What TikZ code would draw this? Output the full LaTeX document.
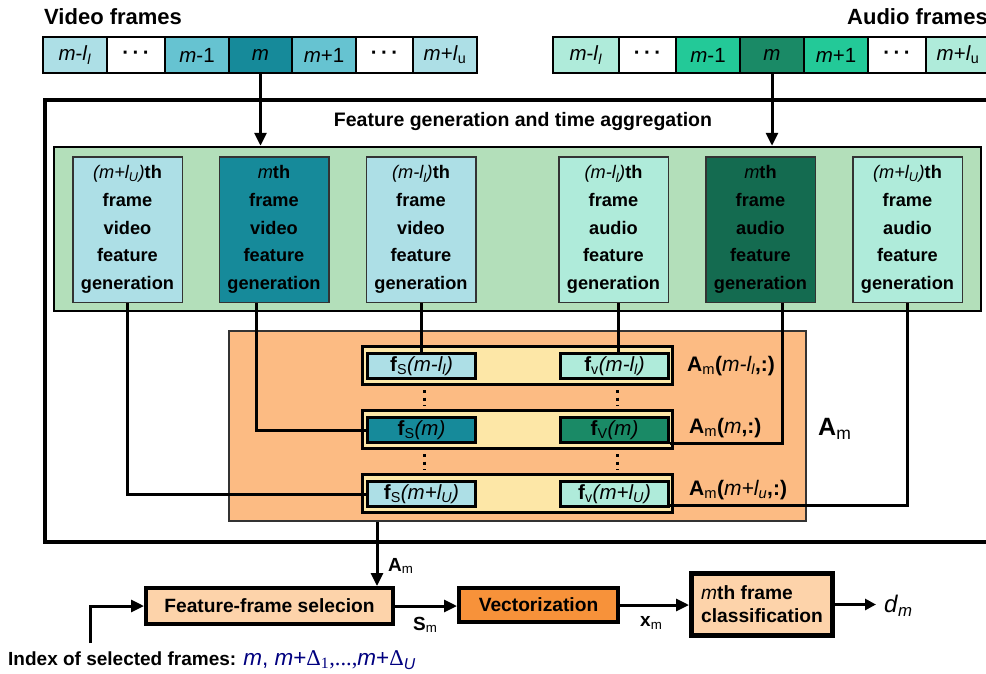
\documentclass[tikz,border=0pt]{standalone}
\usepackage{fontspec}
\setmainfont{Liberation Sans}
\newfontfamily\deltafont{Liberation Serif}
\usetikzlibrary{positioning, arrows.meta, calc}
\definecolor{vlight}{HTML}{ADDFE6}
\definecolor{vmid}{HTML}{66C3D1}
\definecolor{vdark}{HTML}{168A9A}
\definecolor{alight}{HTML}{AFEBDA}
\definecolor{amid}{HTML}{23C998}
\definecolor{adark}{HTML}{1A8A66}
\definecolor{gdark}{HTML}{146B50}
\definecolor{greenbg}{HTML}{B3DFBA}
\definecolor{orangebg}{HTML}{FCBB83}
\definecolor{rowyellow}{HTML}{FDE7A7}
\definecolor{peach}{HTML}{FDD3AA}
\definecolor{vecorange}{HTML}{F7923A}
\definecolor{idxblue}{HTML}{00007F}
\definecolor{edge}{HTML}{333333}
\newcommand{\mi}[1]{\textmd{\textit{#1}}}
\newcommand{\dotsrow}{\textbf{·\,·\,·}}

\begin{document}
\begin{tikzpicture}[x=1pt,y=-1pt,
  cell/.style={draw=black, line width=1.8pt, minimum height=36pt, inner sep=0pt, outer sep=0pt, font=\fontsize{20.5}{22}\selectfont},
  genbox/.style={draw=edge, line width=1.5pt, minimum width=109.5pt, minimum height=145.5pt, inner sep=0pt, align=center, font=\bfseries\fontsize{18.2}{27.6}\selectfont},
  featbox/.style={draw=black, line width=3pt, minimum width=108pt, minimum height=25pt, inner sep=0pt, font=\fontsize{20.5}{22}\selectfont},
  rowbox/.style={draw=black, line width=3pt, fill=rowyellow, minimum width=310pt, minimum height=38pt, inner sep=0pt},
  stagebox/.style={draw=black, line width=4pt, inner sep=0pt, font=\bfseries\fontsize{19.2}{23}\selectfont},
  lab/.style={inner sep=0pt, font=\fontsize{21}{23}\selectfont},
  link/.style={line width=3pt},
  arr/.style={line width=3pt, -{Triangle[length=13pt,width=12pt]}},
  dotsline/.style={line width=3pt, dash pattern=on 3pt off 4.5pt, shorten <=4pt, shorten >=3pt}]
\clip (0,0) rectangle (986,673);

% frame strips
\node[anchor=base west, font=\bfseries\fontsize{22}{24}\selectfont, inner sep=0pt] (vtitle) at (44,24) {Video frames};
\node[anchor=base west, font=\bfseries\fontsize{22}{24}\selectfont, inner sep=0pt] (atitle) at (847,24) {Audio frames};
\foreach \cx/\cw/\cf/\ct [count=\i] in {75/64/vlight/{\textit{m}-\textit{l}\textsubscript{\textit{l}}}, 136/58/white/\dotsrow, 197/64/vmid/{\textit{m}-1}, 260.5/63/vdark/\textit{m}, 324/64/vmid/{\textit{m}+1}, 384.5/57/white/\dotsrow, 445/64/vlight/{\textit{m}+\textit{l}\textsubscript{u}}}
  \node[cell, fill=\cf, minimum width=\cw pt] (v\i) at (\cx,55) {\ct};
\foreach \cx/\cw/\cf/\ct [count=\i] in {586/66/alight/{\textit{m}-\textit{l}\textsubscript{\textit{l}}}, 647.5/57/white/\dotsrow, 708/64/amid/{\textit{m}-1}, 772/64/adark/\textit{m}, 836/64/amid/{\textit{m}+1}, 897/58/white/\dotsrow, 958/64/alight/{\textit{m}+\textit{l}\textsubscript{u}}}
  \node[cell, fill=\cf, minimum width=\cw pt] (a\i) at (\cx,55) {\ct};

% feature generation and time aggregation
\draw[line width=4pt] (45,100) rectangle (1010,542);
\node[font=\bfseries\fontsize{19.5}{21}\selectfont] (fgtitle) at (523,121) {Feature generation and time aggregation};
\node[draw=black, line width=2.5pt, fill=greenbg, minimum width=927pt, minimum height=164pt] (green) at (517.5,229) {};
\foreach \gx/\gf/\gt/\gk [count=\i] in {127.5/vlight/{(m+l\textsubscript{U})}/video, 274/vdark/m/video, 421/vlight/{(m-l\textsubscript{l})}/video, 613.5/alight/{(m-l\textsubscript{l})}/audio, 760.5/gdark/m/audio, 907.5/alight/{(m+l\textsubscript{U})}/audio}
  \node[genbox, fill=\gf] (g\i) at (\gx,229.5) {\mi{\gt}th\\frame\\\gk\\feature\\generation};

\node[draw=edge, line width=2pt, fill=orangebg, minimum width=577pt, minimum height=190pt] (orange) at (517.5,426) {};
\node[rowbox] (r1) at (517.5,365.5) {};
\node[rowbox] (r2) at (517.5,429.5) {};
\node[rowbox] (r3) at (517.5,493) {};
\node[featbox, fill=vlight] (fs1) at (421.5,366) {\textbf{f}\textsubscript{S}\mi{(m-l\textsubscript{l})}};
\node[featbox, fill=vdark] (fs2) at (421.5,430) {\textbf{f}\textsubscript{S}\mi{(m)}};
\node[featbox, fill=vlight] (fs3) at (421.5,494) {\textbf{f}\textsubscript{S}\mi{(m+l\textsubscript{U})}};
\node[featbox, fill=alight] (fv1) at (614.5,366) {\textbf{f}\textsubscript{v}\mi{(m-l\textsubscript{l})}};
\node[featbox, fill=adark] (fv2) at (614.5,430) {\textbf{f}\textsubscript{V}\mi{(m)}};
\node[featbox, fill=alight] (fv3) at (614.5,494) {\textbf{f}\textsubscript{v}\mi{(m+l\textsubscript{U})}};
\draw[dotsline] ([xshift=3pt]fs1.south |- r1.south) -- ([xshift=3pt]fs2.north |- r2.north);
\draw[dotsline] ([xshift=3pt]fs2.south |- r2.south) -- ([xshift=3pt]fs3.north |- r3.north);
\draw[dotsline] ([xshift=2.5pt]fv1.south |- r1.south) -- ([xshift=2.5pt]fv2.north |- r2.north);
\draw[dotsline] ([xshift=2.5pt]fv2.south |- r2.south) -- ([xshift=2.5pt]fv3.north |- r3.north);
\node[lab, anchor=west] (am1) at (687,366) {\textbf{A}\textsubscript{m}\textbf{(}\mi{m-l\textsubscript{l}}\textbf{,:)}};
\node[lab, anchor=west] (am2) at (689,428) {\textbf{A}\textsubscript{m}\textbf{(}\mi{m}\textbf{,:)}};
\node[lab, anchor=west] (am3) at (689,490) {\textbf{A}\textsubscript{m}\textbf{(}\mi{m+l\textsubscript{u}}\textbf{,:)}};
\node[lab, anchor=west, font=\fontsize{25}{27}\selectfont] (amall) at (818,429) {\textbf{A}\textsubscript{m}};

% connectors
\draw[arr] (v4.south) -- (v4.south |- green.north);
\draw[arr] (a4.south) -- (a4.south |- green.north);
\draw[link] (g1.south) |- (fs3.west);
\draw[link] ([xshift=-18pt]g2.south) |- (fs2.west);
\draw[link] (g3.south) -- (g3.south |- fs1.north);
\draw[link] ([xshift=5pt]g4.south) -- ([xshift=5pt]g4.south |- fv1.north);
\draw[link] ([xshift=22pt]g5.south) |- ([yshift=1pt]fv2.south east);
\draw[link] (g6.south) |- ([yshift=3pt]fv3.south east);

% classification stages
\node[stagebox, fill=peach, minimum width=247pt, minimum height=36pt] (ffs) at (269.5,606) {Feature-frame selecion};
\node[stagebox, fill=vecorange, minimum width=159pt, minimum height=34pt] (vec) at (538.5,605) {Vectorization};
\node[stagebox, line width=5pt, fill=peach, minimum width=141pt, minimum height=62pt, align=left] (cls) at (762,604.5) {\mi{m}th frame\\classification};
\node[anchor=west, inner sep=0pt, font=\fontsize{24}{26}\selectfont] (dm) at (884,606) {\textit{d}\textsubscript{\textit{m}}};
\coordinate (idx) at (90,643);
\draw[arr] ([xshift=-18pt]ffs.north east |- orange.south) -- ([xshift=-18pt]ffs.north east);
\draw[arr] (ffs.east) -- (ffs.east -| vec.west);
\draw[arr] (vec.east) -- (vec.east -| cls.west);
\draw[line width=3pt, -{Triangle[length=11pt,width=11pt]}, shorten >=8pt] (cls.east) -- (cls.east -| dm.west);
\draw[arr] (idx) |- (ffs.west);
\node[lab, anchor=west, font=\fontsize{19}{21}\selectfont] (amlab) at (388,566) {\textbf{A}\textsubscript{m}};
\node[lab, anchor=west, font=\fontsize{19}{21}\selectfont] (smlab) at (413,625) {\textbf{S}\textsubscript{m}};
\node[lab, anchor=west, font=\fontsize{19}{21}\selectfont] (xmlab) at (640,623) {\textbf{x}\textsubscript{m}};
\node[lab, anchor=west, font=\fontsize{19}{21}\selectfont] (idxlab) at (8,660) {\textbf{Index of selected frames:} \textcolor{idxblue}{\fontsize{22.5}{24}\selectfont\textit{m}, \textit{m}+{\deltafont Δ\textsubscript{1},...,}\textit{m}+{\deltafont Δ}\textsubscript{\textit{U}}}};
\end{tikzpicture}
\end{document}
